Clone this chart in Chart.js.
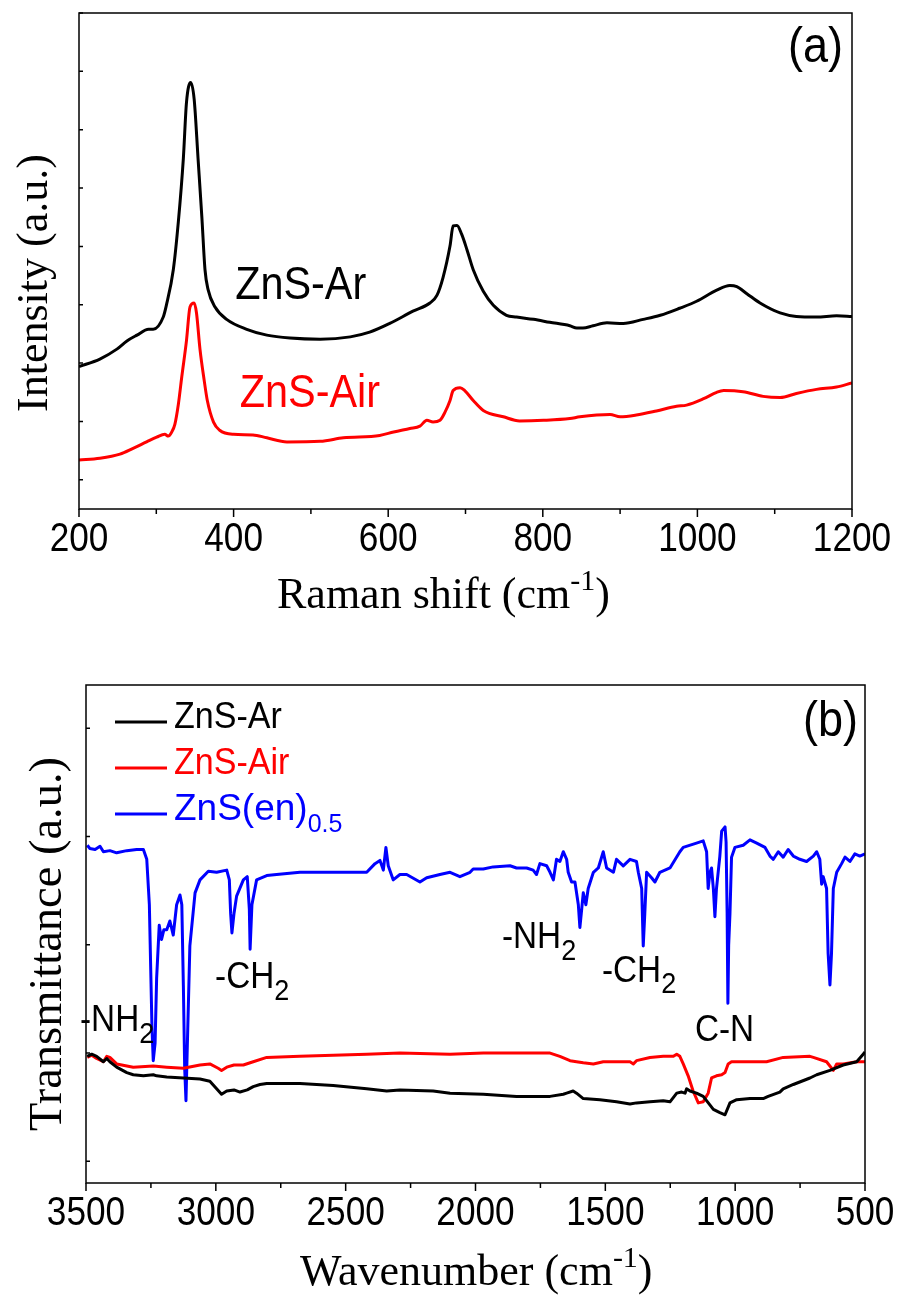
<!DOCTYPE html>
<html>
<head>
<meta charset="utf-8">
<script src="https://cdn.jsdelivr.net/npm/chart.js@4.4.1/dist/chart.umd.min.js"></script>
<style>
  body { margin: 0; background: #fff; }
  .panel { position: absolute; left: 0; width: 899px; height: 650px; }
</style>
</head>
<body>
<div class="panel" style="top:0"><canvas id="ramanChart" width="899" height="650"></canvas></div>
<div class="panel" style="top:650px"><canvas id="ftirChart" width="899" height="650"></canvas></div>
<script>
// ---- (a) Raman spectra ----
const ramanTicks = [200, 400, 600, 800, 1000, 1200];
const ramanMinorTicks = [300, 500, 700, 900, 1100];
const intensityTicks = [0, 1, 2, 3, 4, 5, 6, 7, 8];

const ramanArShift = [200, 227, 249, 262, 275, 290, 296, 309, 313, 322, 328.5, 335, 339, 344.5, 349, 354, 359, 363, 367, 376,
  391, 417, 443, 473, 512, 551, 576, 602, 632, 654, 663, 671, 680, 684, 689, 695, 702, 710, 723, 736,
  753, 766, 788, 809, 835, 844, 852, 865, 883, 904, 930, 952, 977, 999, 1025, 1042, 1051, 1064, 1081, 1107,
  1128, 1154, 1180, 1200];
const ramanArIntensity = [1.94, 2.07, 2.24, 2.38, 2.48, 2.58, 2.58, 2.79, 2.99, 3.60, 4.42, 5.51, 6.46, 6.81, 6.52, 5.51, 4.49, 3.60, 3.26, 2.96,
  2.75, 2.58, 2.48, 2.43, 2.41, 2.45, 2.53, 2.68, 2.89, 3.03, 3.16, 3.47, 4.01, 4.35, 4.36, 4.21, 3.94, 3.60, 3.23, 2.99,
  2.82, 2.79, 2.75, 2.70, 2.64, 2.60, 2.60, 2.64, 2.69, 2.68, 2.75, 2.82, 2.94, 3.06, 3.25, 3.33, 3.31, 3.19, 3.03, 2.86,
  2.80, 2.79, 2.81, 2.80];

const ramanAirShift = [200, 227, 253, 270, 287.5, 300.5, 311, 315.5, 320, 324, 328.5, 333, 339, 343.6, 349, 352, 356.5, 362, 366, 374,
  382, 400, 425, 443, 469, 512, 542, 589, 607, 628, 641, 650, 658, 667, 673.5, 680, 684, 693, 699, 710,
  723, 749, 770, 801, 835, 848, 887, 900, 921, 947, 973, 986, 1008, 1025, 1034, 1059, 1085, 1107, 1128, 1154,
  1180, 1200];
const ramanAirIntensity = [0.34, 0.37, 0.44, 0.54, 0.65, 0.73, 0.78, 0.75, 0.82, 0.95, 1.29, 1.77, 2.38, 2.96, 3.03, 2.86, 2.24, 1.70, 1.36, 0.99,
  0.85, 0.78, 0.77, 0.72, 0.65, 0.66, 0.72, 0.76, 0.82, 0.88, 0.92, 1.02, 0.99, 1.02, 1.16, 1.36, 1.53, 1.58, 1.53, 1.36,
  1.19, 1.08, 1.01, 1.02, 1.05, 1.08, 1.12, 1.08, 1.11, 1.18, 1.26, 1.28, 1.39, 1.50, 1.53, 1.51, 1.43, 1.41, 1.48, 1.55,
  1.59, 1.66];

// ---- (b) FTIR spectra ----
const wavenumberTicks = [3500, 3000, 2500, 2000, 1500, 1000, 500];
const wavenumberMinorTicks = [3250, 2750, 2250, 1750, 1250, 750];
const transmittanceTicks = [0, 1, 2, 3, 4];
const seriesNames = ['ZnS-Ar', 'ZnS-Air', 'ZnS(en)'];
const seriesColors = ['#000000', '#ff0000', '#0000ff'];

const ftirArWavenumber = [3495, 3478, 3459, 3433, 3420, 3408, 3382, 3343, 3318, 3279, 3241, 3228, 3189, 3125, 3061, 3023, 2997, 2978, 2958, 2930,
  2907, 2879, 2856, 2830, 2804, 2676, 2548, 2419, 2342, 2291, 2163, 2098, 1970, 1842, 1713, 1662, 1649, 1624, 1611, 1585,
  1521, 1457, 1405, 1380, 1328, 1277, 1251, 1225, 1206, 1193, 1187, 1174, 1149, 1123, 1084, 1059, 1039, 1020, 994, 943,
  892, 873, 828, 815, 776, 712, 686, 635, 584, 532, 507, 500];
const ftirArT = [0.97, 0.99, 0.97, 0.92, 0.95, 0.92, 0.87, 0.82, 0.80, 0.79, 0.80, 0.79, 0.78, 0.77, 0.76, 0.74, 0.67, 0.62, 0.65, 0.66,
  0.64, 0.66, 0.69, 0.71, 0.72, 0.72, 0.70, 0.67, 0.65, 0.66, 0.65, 0.63, 0.62, 0.60, 0.60, 0.62, 0.63, 0.65, 0.63, 0.58,
  0.57, 0.55, 0.53, 0.54, 0.55, 0.56, 0.55, 0.63, 0.64, 0.63, 0.67, 0.65, 0.63, 0.60, 0.48, 0.45, 0.43, 0.54, 0.57, 0.58,
  0.58, 0.60, 0.64, 0.67, 0.71, 0.77, 0.80, 0.84, 0.89, 0.92, 0.99, 1.01];

const ftirAirWavenumber = [3495, 3478, 3459, 3433, 3420, 3408, 3382, 3318, 3241, 3189, 3125, 3061, 3023, 2991, 2978, 2958, 2930, 2894, 2856, 2804,
  2676, 2548, 2419, 2291, 2098, 1970, 1842, 1713, 1675, 1636, 1611, 1585, 1546, 1508, 1457, 1405, 1392, 1380, 1328, 1277,
  1238, 1225, 1213, 1200, 1181, 1162, 1142, 1123, 1104, 1091, 1072, 1052, 1039, 1027, 1014, 943, 879, 815, 712, 699,
  648, 622, 609, 584, 532, 500];
const ftirAirT = [0.96, 0.98, 0.95, 0.92, 0.97, 0.96, 0.90, 0.87, 0.88, 0.87, 0.86, 0.89, 0.90, 0.86, 0.84, 0.87, 0.89, 0.89, 0.92, 0.96,
  0.97, 0.98, 0.99, 1.00, 0.99, 1.00, 1.00, 1.00, 0.97, 0.93, 0.92, 0.91, 0.90, 0.92, 0.92, 0.92, 0.90, 0.93, 0.96, 0.97,
  0.97, 0.99, 0.97, 0.90, 0.79, 0.65, 0.54, 0.55, 0.63, 0.77, 0.79, 0.80, 0.82, 0.90, 0.92, 0.92, 0.92, 0.96, 0.97, 0.96,
  0.92, 0.84, 0.90, 0.90, 0.92, 0.92];

const ftirEnWavenumber = [3495, 3485, 3465, 3446, 3433, 3408, 3382, 3343, 3305, 3279, 3266, 3256, 3251, 3246, 3241, 3234, 3228, 3218, 3209, 3200,
  3189, 3177, 3164, 3151, 3138, 3131, 3125, 3120, 3115, 3110, 3100, 3080, 3061, 3029, 2997, 2958, 2948, 2943, 2938, 2930,
  2920, 2894, 2879, 2871, 2868, 2861, 2843, 2804, 2766, 2676, 2548, 2419, 2387, 2368, 2355, 2345, 2336, 2317, 2291, 2265,
  2214, 2188, 2137, 2098, 2060, 2021, 2009, 1970, 1932, 1867, 1842, 1803, 1778, 1765, 1752, 1726, 1713, 1700, 1688, 1675,
  1662, 1649, 1643, 1630, 1617, 1604, 1598, 1591, 1585, 1575, 1566, 1546, 1527, 1508, 1495, 1469, 1457, 1431, 1405, 1380,
  1373, 1360, 1354, 1348, 1341, 1322, 1309, 1290, 1251, 1213, 1200, 1149, 1123, 1110, 1104, 1097, 1091, 1084, 1078, 1072,
  1059, 1052, 1039, 1035, 1031, 1028, 1025, 1020, 1014, 1001, 969, 943, 917, 885, 866, 853, 834, 815, 796, 776,
  751, 725, 699, 686, 674, 667, 661, 648, 642, 635, 629, 622, 609, 590, 577, 558, 539, 520, 500];
const ftirEnT = [2.92, 2.89, 2.88, 2.91, 2.86, 2.87, 2.85, 2.87, 2.88, 2.88, 2.79, 2.37, 1.80, 1.24, 0.93, 1.09, 1.69, 2.18, 2.05, 2.14,
  2.14, 2.22, 2.09, 2.37, 2.46, 2.37, 1.62, 0.86, 0.56, 1.05, 1.99, 2.48, 2.60, 2.68, 2.67, 2.69, 2.60, 2.29, 2.11, 2.29,
  2.45, 2.60, 2.63, 2.33, 1.96, 2.37, 2.60, 2.64, 2.65, 2.67, 2.67, 2.67, 2.75, 2.78, 2.69, 2.90, 2.73, 2.60, 2.65, 2.65,
  2.58, 2.62, 2.65, 2.67, 2.63, 2.67, 2.70, 2.70, 2.72, 2.73, 2.71, 2.71, 2.69, 2.65, 2.75, 2.73, 2.67, 2.60, 2.79, 2.77,
  2.86, 2.79, 2.67, 2.58, 2.58, 2.37, 2.16, 2.33, 2.48, 2.37, 2.52, 2.67, 2.71, 2.86, 2.71, 2.67, 2.79, 2.73, 2.79, 2.77,
  2.67, 2.52, 1.99, 2.29, 2.67, 2.62, 2.58, 2.67, 2.71, 2.86, 2.90, 2.94, 2.96, 2.86, 2.52, 2.67, 2.71, 2.52, 2.26, 2.52,
  2.82, 3.05, 3.09, 2.95, 2.30, 1.46, 2.00, 2.29, 2.81, 2.90, 2.92, 2.97, 2.94, 2.90, 2.82, 2.79, 2.86, 2.81, 2.88, 2.82,
  2.79, 2.77, 2.82, 2.86, 2.79, 2.56, 2.63, 2.52, 1.92, 1.63, 1.92, 2.52, 2.67, 2.75, 2.81, 2.77, 2.84, 2.82, 2.84];

// band labels: [text, subscript, wavenumber, transmittance] (left edge / baseline)
const bandLabels = [
  ['-NH', '2', 3523, 1.20],
  ['-CH', '2', 3003, 1.60],
  ['-NH', '2', 1898, 1.97],
  ['-CH', '2', 1513, 1.66],
  ['C-N', '', 1155, 1.11]
];

const SANS = 'Liberation Sans';
const SERIF = 'Liberation Serif';

function toPoints(xs, ys) {
  return xs.map((x, i) => ({ x: x, y: ys[i] }));
}

// draw text made of parts: [text, 'sub' | 'sup' | undefined]
// sx squeezes it horizontally, small = size ratio of sub/sup parts
function richText(ctx, parts, x, y, size, family, color, align, sx, small) {
  sx = sx || 1;
  small = small || 0.68;
  const fontFor = k => (k ? Math.round(size * small) : size) + 'px "' + family + '"';
  let total = 0;
  parts.forEach(p => { ctx.font = fontFor(p[1]); total += ctx.measureText(p[0]).width; });
  let cx = align === 'center' ? -total / 2 : align === 'right' ? -total : 0;
  ctx.save();
  ctx.translate(x, y);
  ctx.scale(sx, 1);
  ctx.fillStyle = color;
  ctx.textAlign = 'left';
  ctx.textBaseline = 'alphabetic';
  parts.forEach(([t, k]) => {
    ctx.font = fontFor(k);
    const dy = k === 'sub' ? size * 0.32 : k === 'sup' ? -size * 0.4 : 0;
    ctx.fillText(t, cx, dy);
    cx += ctx.measureText(t).width;
  });
  ctx.restore();
}

// box, outward x ticks with labels, inward y ticks
function framePlugin(xMajor, xMinor, yTicks) {
  return {
    id: 'frame',
    afterDatasetsDraw(chart) {
      const { ctx, chartArea: a, scales } = chart;
      ctx.save();
      ctx.strokeStyle = '#000';
      ctx.lineWidth = 1.5;
      ctx.strokeRect(a.left, a.top, a.right - a.left, a.bottom - a.top);
      ctx.beginPath();
      xMajor.forEach(v => { const px = scales.x.getPixelForValue(v); ctx.moveTo(px, a.bottom); ctx.lineTo(px, a.bottom + 8); });
      xMinor.forEach(v => { const px = scales.x.getPixelForValue(v); ctx.moveTo(px, a.bottom); ctx.lineTo(px, a.bottom + 5); });
      yTicks.forEach(v => { const py = scales.y.getPixelForValue(v); ctx.moveTo(a.left, py); ctx.lineTo(a.left + 4, py); });
      ctx.stroke();
      xMajor.forEach(v => {
        richText(ctx, [[String(v)]], scales.x.getPixelForValue(v), a.bottom + 42, 40, SANS, '#000', 'center', 0.88);
      });
      ctx.restore();
    }
  };
}

const lineStyle = { pointRadius: 0, borderJoinStyle: 'round', fill: false };

// ---------- chart (a) ----------
new Chart(document.getElementById('ramanChart'), {
  type: 'line',
  data: {
    datasets: [
      { label: 'ZnS-Ar', data: toPoints(ramanArShift, ramanArIntensity), borderColor: '#000', borderWidth: 3, cubicInterpolationMode: 'monotone', ...lineStyle },
      { label: 'ZnS-Air', data: toPoints(ramanAirShift, ramanAirIntensity), borderColor: '#ff0000', borderWidth: 3, cubicInterpolationMode: 'monotone', ...lineStyle }
    ]
  },
  options: {
    responsive: false,
    animation: false,
    layout: { padding: { left: 79, right: 47, top: 13, bottom: 141 } },
    plugins: { legend: { display: false }, tooltip: { enabled: false } },
    scales: {
      x: { type: 'linear', min: 200, max: 1200, display: false },
      y: { type: 'linear', min: -0.5, max: 8, display: false }
    }
  },
  plugins: [
    framePlugin(ramanTicks, ramanMinorTicks, intensityTicks),
    {
      id: 'ramanText',
      afterDraw(chart) {
        const { ctx, chartArea: a, scales } = chart;
        richText(ctx, [['ZnS-Ar']], scales.x.getPixelForValue(402), scales.y.getPixelForValue(3.10), 46, SANS, '#000', 'left', 0.9);
        richText(ctx, [['ZnS-Air']], scales.x.getPixelForValue(408), scales.y.getPixelForValue(1.25), 46, SANS, '#ff0000', 'left', 0.9);
        richText(ctx, [['(a)']], a.right - 9, a.top + 49, 50, SANS, '#000', 'right', 0.9);
        richText(ctx, [['Raman shift (cm'], ['-1', 'sup'], [')']], 277, 608, 44, SERIF, '#000', 'left');
        ctx.save();
        ctx.translate(47, (a.top + a.bottom) / 2 + 22);
        ctx.rotate(-Math.PI / 2);
        richText(ctx, [['Intensity (a.u.)']], 0, 0, 44, SERIF, '#000', 'center');
        ctx.restore();
      }
    }
  ]
});

// ---------- chart (b) ----------
const ftirSeries = [
  toPoints(ftirArWavenumber, ftirArT),
  toPoints(ftirAirWavenumber, ftirAirT),
  toPoints(ftirEnWavenumber, ftirEnT)
];

new Chart(document.getElementById('ftirChart'), {
  type: 'line',
  data: {
    datasets: ftirSeries.map((pts, i) => ({
      label: seriesNames[i], data: pts, borderColor: seriesColors[i], borderWidth: 3, tension: 0, ...lineStyle
    }))
  },
  options: {
    responsive: false,
    animation: false,
    layout: { padding: { left: 86, right: 34, top: 35, bottom: 117 } },
    plugins: { legend: { display: false }, tooltip: { enabled: false } },
    scales: {
      x: { type: 'linear', min: 500, max: 3500, reverse: true, display: false },
      y: { type: 'linear', min: -0.2, max: 4.4, display: false }
    }
  },
  plugins: [
    framePlugin(wavenumberTicks, wavenumberMinorTicks, transmittanceTicks),
    {
      id: 'ftirText',
      afterDraw(chart) {
        const { ctx, chartArea: a, scales } = chart;
        // legend
        seriesNames.forEach((name, i) => {
          const ly = a.top + 37 + i * 46;
          ctx.save();
          ctx.strokeStyle = seriesColors[i];
          ctx.lineWidth = 3;
          ctx.beginPath();
          ctx.moveTo(a.left + 29, ly);
          ctx.lineTo(a.left + 81, ly);
          ctx.stroke();
          ctx.restore();
          const parts = i === 2 ? [[name], ['0.5', 'sub']] : [[name]];
          richText(ctx, parts, a.left + 88, ly + 6, 37, SANS, seriesColors[i], 'left', i === 2 ? 1 : 0.92);
        });
        bandLabels.forEach(([t, sub, wx, ty]) => {
          const parts = sub ? [[t], [sub, 'sub']] : [[t]];
          richText(ctx, parts, scales.x.getPixelForValue(wx), scales.y.getPixelForValue(ty), 37, SANS, '#000', 'left', 0.9, 0.8);
        });
        richText(ctx, [['(b)']], a.right - 7, a.top + 51, 50, SANS, '#000', 'right', 0.9);
        richText(ctx, [['Wavenumber (cm'], ['-1', 'sup'], [')']], 300, 635, 44, SERIF, '#000', 'left');
        ctx.save();
        ctx.translate(61, (a.top + a.bottom) / 2 + 10);
        ctx.rotate(-Math.PI / 2);
        richText(ctx, [['Transmittance (a.u.)']], 0, 0, 46.5, SERIF, '#000', 'center');
        ctx.restore();
      }
    }
  ]
});
</script>
</body>
</html>
